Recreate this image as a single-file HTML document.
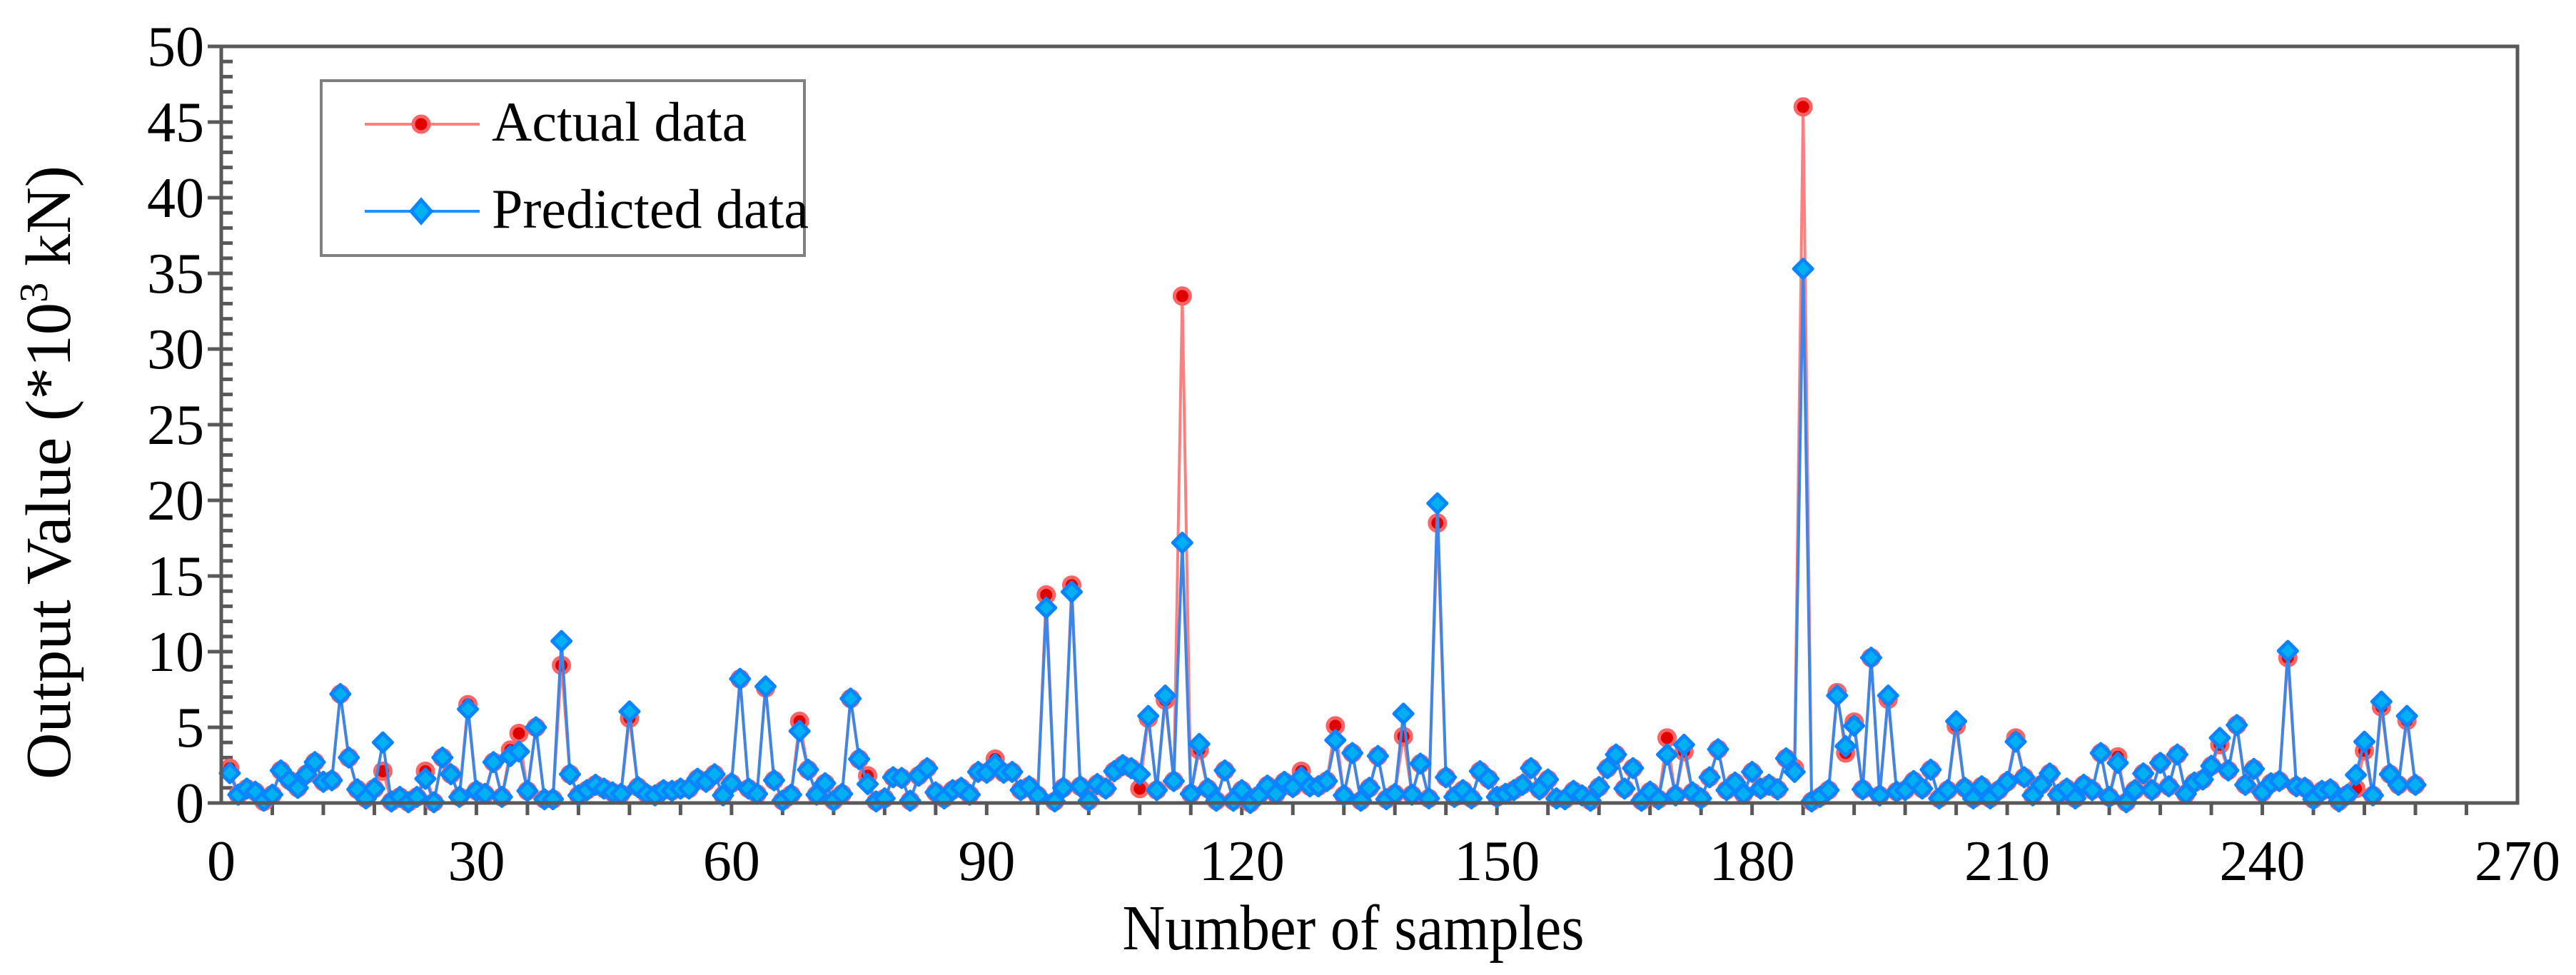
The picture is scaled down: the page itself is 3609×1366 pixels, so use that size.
<!DOCTYPE html>
<html>
<head>
<meta charset="utf-8">
<style>
html,body{margin:0;padding:0;background:#fff;}
svg{display:block;font-family:"Liberation Serif","Times New Roman",serif;}
svg text{font-family:"Liberation Serif","Times New Roman",serif;}
</style>
</head>
<body>
<svg id="chart" width="3609" height="1366" viewBox="0 0 3609 1366" xmlns="http://www.w3.org/2000/svg">
  <rect x="0" y="0" width="3609" height="1366" fill="#fff"/>
  <g id="grid-ticks"></g>
  <g id="series"></g>
  <rect x="310" y="65" width="3217" height="1060" fill="none" stroke="#595959" stroke-width="5"/>
  <g id="labels"></g>
  <text x="1896" y="1330" font-family="Liberation Serif, Times New Roman, serif" font-size="90" text-anchor="middle" textLength="647" lengthAdjust="spacingAndGlyphs">Number of samples</text>
  <text transform="translate(98,662) rotate(-90)" font-family="Liberation Serif, Times New Roman, serif" font-size="90" text-anchor="middle" textLength="860" lengthAdjust="spacingAndGlyphs">Output Value (*10<tspan font-size="56" dy="-32">3</tspan><tspan dy="32"> kN)</tspan></text>
  <g>
    <rect x="450" y="113" width="677" height="245" fill="#fff" stroke="#808080" stroke-width="4"/>
    <g>
      <line x1="511" y1="174" x2="672" y2="174" stroke="#ff7f7f" stroke-width="4"/>
      <circle cx="590" cy="174" r="11" fill="#e00000" stroke="#ff6464" stroke-width="5"/>
      <text x="689" y="197" font-family="Liberation Serif, Times New Roman, serif" font-size="78">Actual data</text>
    </g>
    <g>
      <line x1="511" y1="296" x2="672" y2="296" stroke="#1e90ff" stroke-width="4"/>
      <polygon points="590,280 604,296 590,312 576,296" fill="#00b0f0" stroke="#0a84ff" stroke-width="5"/>
      <text x="689" y="319" font-family="Liberation Serif, Times New Roman, serif" font-size="78">Predicted data</text>
    </g>
  </g>
</svg>
<script>
const predicted = [1.97,0.55,0.95,0.74,0.15,0.55,2.15,1.5,1.0,1.9,2.7,1.4,1.5,7.2,3.0,0.9,0.3,0.95,4.0,0.1,
0.4,0.05,0.4,1.6,0.05,3.0,1.9,0.4,6.2,0.8,0.6,2.7,0.4,3.1,3.4,0.8,5.0,0.25,0.25,10.7,
1.9,0.5,0.85,1.2,0.95,0.7,0.6,6.05,1.05,0.6,0.5,0.85,0.8,0.95,0.95,1.6,1.4,1.9,0.5,1.3,
8.2,0.95,0.6,7.7,1.5,0.15,0.55,4.75,2.2,0.55,1.3,0.15,0.6,6.9,2.9,1.25,0.1,0.3,1.7,1.65,
0.15,1.8,2.3,0.7,0.3,0.85,1.0,0.55,2.05,2.0,2.55,2.0,2.05,0.85,1.1,0.5,12.9,0.1,1.0,13.95,
1.1,0.15,1.25,0.95,2.1,2.5,2.3,1.9,5.75,0.85,7.1,1.45,17.2,0.6,3.9,0.95,0.15,2.15,0.15,0.85,
0.0,0.5,1.15,0.6,1.4,1.05,1.7,1.1,1.1,1.45,4.15,0.5,3.3,0.15,1.0,3.1,0.25,0.6,5.9,0.55,
2.6,0.3,19.8,1.7,0.4,0.85,0.3,2.1,1.6,0.4,0.6,0.85,1.2,2.3,0.9,1.55,0.3,0.25,0.8,0.5,
0.15,1.05,2.3,3.2,0.95,2.3,0.15,0.75,0.25,3.2,0.5,3.85,0.7,0.3,1.7,3.55,0.85,1.35,0.6,2.05,
0.95,1.2,0.9,2.95,2.05,35.3,0.1,0.4,0.85,7.1,3.75,5.1,0.9,9.6,0.5,7.1,0.75,0.85,1.45,0.95,
2.2,0.3,0.85,5.4,1.0,0.3,1.1,0.3,0.85,1.4,4.05,1.7,0.5,1.2,1.95,0.55,0.95,0.3,1.2,0.85,
3.3,0.4,2.65,0.05,0.85,1.95,0.85,2.65,1.1,3.2,0.6,1.35,1.55,2.45,4.3,2.15,5.15,1.2,2.25,0.7,
1.3,1.45,10.05,1.1,1.0,0.25,0.8,0.9,0.1,0.55,1.85,4.05,0.5,6.7,1.9,1.2,5.75,1.2];
const actual = [2.3,0.55,0.95,0.74,0.1,0.55,2.15,1.5,1.0,1.9,2.7,1.4,1.5,7.2,3.0,0.9,0.3,0.95,2.1,0.1,
0.4,0.05,0.4,2.1,0.05,3.0,1.9,0.4,6.5,0.8,0.6,2.7,0.4,3.5,4.6,0.8,5.0,0.25,0.25,9.1,
1.9,0.5,0.85,1.2,0.95,0.7,0.6,5.6,1.05,0.6,0.5,0.85,0.8,0.95,0.95,1.6,1.4,1.9,0.5,1.3,
8.2,0.95,0.6,7.6,1.5,0.15,0.55,5.4,2.2,0.55,1.3,0.15,0.6,6.9,2.9,1.8,0.1,0.3,1.7,1.65,
0.15,1.8,2.3,0.7,0.3,0.85,1.0,0.55,2.05,2.0,2.9,2.0,2.05,0.85,1.1,0.5,13.75,0.1,1.0,14.4,
1.1,0.15,1.25,0.95,2.1,2.5,2.3,0.95,5.6,0.85,6.8,1.45,33.5,0.6,3.5,0.95,0.15,2.15,0.15,0.85,
0.0,0.5,1.15,0.6,1.4,1.05,2.1,1.1,1.1,1.45,5.1,0.5,3.3,0.15,1.0,3.1,0.25,0.6,4.4,0.55,
2.6,0.3,18.5,1.7,0.4,0.85,0.3,2.1,1.6,0.4,0.6,0.85,1.2,2.3,0.9,1.55,0.3,0.25,0.8,0.5,
0.15,1.05,2.3,3.2,0.95,2.3,0.15,0.75,0.25,4.3,0.5,3.4,0.7,0.3,1.7,3.55,0.85,1.35,0.6,2.05,
0.95,1.2,0.9,2.95,2.3,46.0,0.1,0.4,0.85,7.3,3.3,5.35,0.9,9.6,0.5,6.85,0.75,0.85,1.45,0.95,
2.2,0.3,0.85,5.1,1.0,0.3,1.1,0.3,0.85,1.4,4.3,1.7,0.5,1.2,1.95,0.55,0.95,0.3,1.2,0.85,
3.3,0.4,3.05,0.05,0.85,1.95,0.85,2.65,1.1,3.2,0.6,1.35,1.55,2.45,3.85,2.15,5.15,1.2,2.25,0.7,
1.3,1.45,9.6,1.1,1.0,0.25,0.8,0.9,0.1,0.55,0.95,3.45,0.5,6.35,1.9,1.2,5.45,1.2];
const xTickLabels = [0,30,60,90,120,150,180,210,240,270];
const yTickLabels = [0,5,10,15,20,25,30,35,40,45,50];

const NS = "http://www.w3.org/2000/svg";
const FONT = "Liberation Serif, Times New Roman, serif";
const X0 = 310, X1 = 3527, Y0 = 1125, Y1 = 65;
function xs(v){ return X0 + (v/270)*(X1-X0); }
function ys(v){ return Y0 - (v/50)*(Y0-Y1); }
function mk(tag, attrs, parent){
  const e = document.createElementNS(NS, tag);
  for (const k in attrs) e.setAttribute(k, attrs[k]);
  parent.appendChild(e);
  return e;
}
const ticks = document.getElementById('grid-ticks');
const labels = document.getElementById('labels');
const series = document.getElementById('series');

for (let v = 0; v <= 50; v++) {
  const y = ys(v);
  const major = v % 5 === 0;
  const t = mk('line', {x1: major ? 291 : 310, x2: 326, y1: y, y2: y, stroke: '#595959', 'stroke-width': 5}, ticks);
  
  
}
for (let v = 6; v < 270; v += 6) {
  const x = xs(v);
  const t = mk('line', {x1: x, x2: x, y1: 1125, y2: 1142, stroke: '#595959', 'stroke-width': 5}, ticks);
  
  
}
yTickLabels.forEach(v => {
  const t = mk('text', {x: 286, y: ys(v) + 27, 'font-size': 80, 'font-family': FONT, 'text-anchor': 'end'}, labels);
  t.textContent = v;
  
  
});
xTickLabels.forEach(v => {
  const t = mk('text', {x: xs(v), y: 1233, 'font-size': 80, 'font-family': FONT, 'text-anchor': 'middle'}, labels);
  t.textContent = v;
  
  
});

function pts(arr){ return arr.map((v,i)=> xs(i+1).toFixed(1)+','+ys(v).toFixed(1)).join(' '); }

const la = mk('polyline', {points: pts(actual), fill: 'none', stroke: '#ff7f7f', 'stroke-width': 4, 'stroke-linejoin': 'round'}, series);


actual.forEach((v,i) => {
  const c = mk('circle', {cx: xs(i+1), cy: ys(v), r: 11, fill: '#e00000', stroke: '#ff6464', 'stroke-width': 5}, series);
  
  
});
const lp = mk('polyline', {points: pts(predicted), fill: 'none', stroke: '#3d85e6', 'stroke-width': 4, 'stroke-linejoin': 'round'}, series);


predicted.forEach((v,i) => {
  const x = xs(i+1), y = ys(v), h = 13;
  const d = mk('polygon', {points: `${x},${y-h} ${x+h},${y} ${x},${y+h} ${x-h},${y}`, fill: '#00b0f0', stroke: '#0a84ff', 'stroke-width': 5, 'stroke-linejoin': 'round'}, series);
  
  
});
</script>
</body>
</html>
